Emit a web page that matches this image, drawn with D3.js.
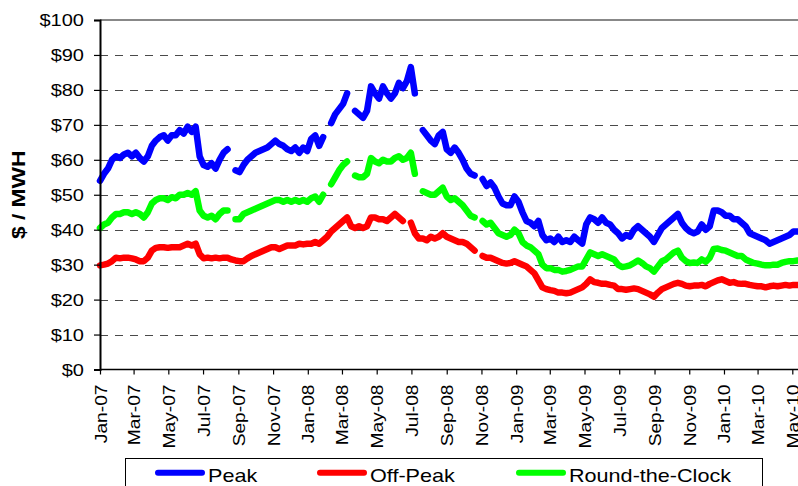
<!DOCTYPE html>
<html>
<head>
<meta charset="utf-8">
<script src="https://cdn.jsdelivr.net/npm/d3@7"></script>
<style>
  html, body { margin: 0; padding: 0; background: #fff; }
  svg { display: block; font-family: "Liberation Sans", Arial, sans-serif; }
</style>
</head>
<body>
<svg id="chart" width="798" height="486"></svg>
<script>
// ---- Data (weekly readings starting 2007-01-01; null = gap in series) ----
const startDate = new Date(2007, 0, 1);
const seriesNames = ["Peak", "Off-Peak", "Round-the-Clock"];
const seriesColors = ["#0000FF", "#FF0000", "#00FF00"];

const peak = [
  54, 56, 57.5, 60, 61, 60.5, 61.5, 62, 61, 62,
  60.5, 59.5, 61, 64, 65.5, 66.5, 67, 65.5, 67, 67,
  68.5, 67.5, 69.5, 68, 69.5, 61, 58.5, 58, 59, 57.5,
  60, 62, 63, null, 57, 56.5, 58.5, 60, 61, 62,
  62.5, 63, 63.5, 64.5, 65.5, 64.5, 64, 63, 62.5, 63.5,
  62, 63.5, 62.5, 66, 67, 64, 66.5, null, 70.5, 73,
  74.5, 76, 79, null, 74, 73, 72, 74, 81, 79,
  77.5, 81, 79, 77.5, 79, 82, 80.5, 82.5, 86.5, 79,
  null, 68.5, 67, 65.5, 64.5, 67, 68, 63, 62, 63.5,
  62, 60, 57.5, 56, 55.5, null, 54.5, 52.5, 53.5, 52,
  49.5, 47.5, 47, 47, 49.5, 48, 45, 42.5, 42, 41,
  42.5, 38.5, 37, 37.5, 36.5, 38, 36.5, 37, 36.5, 38,
  37, 36, 41.5, 43.5, 43, 42, 43.5, 42, 41.5, 40,
  39, 37.5, 38.5, 38, 40, 41, 40, 39, 38, 36.5,
  38.5, 40.5, 41.5, 42.5, 43.5, 44.5, 42, 40.5, 39.5, 39,
  39.5, 41.5, 40, 41, 45.5, 45.5, 45, 44, 44, 43,
  43, 42, 41, 39, 38.5, 38, 37.5, 37, 36, 36.5,
  37, 37.5, 38, 38.5, 39.5, 39.5
];

const offPeak = [
  29.8, 30, 30.3, 31, 32, 31.8, 32, 32, 31.8, 31.5,
  31, 31, 32, 34, 34.8, 35, 35, 34.8, 35, 35,
  35, 35.5, 36, 35.5, 36, 33, 31.8, 32, 31.8, 32,
  31.8, 32, 32, 31.5, 31.2, 31, 31, 31.8, 32.5, 33,
  33.5, 34, 34.5, 35, 35, 34.5, 35, 35.5, 35.5, 35.5,
  36, 35.8, 36, 36, 36.5, 36, 37, 38, 39.5, 40.5,
  41.5, 42.5, 43.5, 41, 40.5, 41, 40.5, 41, 43.5, 43.5,
  43, 43, 42.5, 43.5, 44.5, 43.5, 42.5, null, 42, 39,
  37.5, 37.5, 37, 38, 37.5, 38, 39, 38, 37.5, 37,
  36.5, 36.5, 36, 35, 34, null, 32.5, 32, 32, 31.5,
  31, 30.5, 30.3, 30.5, 31, 30.5, 30, 29.5, 28.5, 27.5,
  25.5, 23.5, 23, 22.7, 22.5, 22, 22, 21.8, 22, 22.5,
  23, 23.5, 24.5, 25.8, 25, 24.8, 24.5, 24.5, 24.2, 24,
  23, 23, 22.8, 23, 23.2, 23, 22.5, 22, 21.5, 20.8,
  22, 23, 23.5, 24, 24.5, 24.8, 24.5, 24, 23.8, 24,
  24, 24.2, 23.8, 24.5, 25, 25.5, 25.8, 25.3, 24.8, 25,
  24.6, 24.5, 24.5, 24.2, 24, 23.8, 23.8, 23.5, 23.8, 24,
  23.8, 24, 24.2, 24, 24.2, 24.2
];

const roundTheClock = [
  40.5, 41.5, 42, 43.5, 44.5, 44.5, 45, 45, 44.5, 45,
  44.5, 43.5, 45, 47.5, 48.5, 49, 49, 48.5, 49.3, 49,
  50, 50, 50.5, 50, 51, 45.5, 44, 43.5, 44, 43,
  44.5, 45.5, 45.5, null, 43, 43, 44.5, 45, 45.5, 46,
  46.5, 47, 47.5, 48, 48.5, 48.5, 48, 48.5, 48, 48.5,
  48, 48.5, 48, 49, 49.5, 48, 50, null, 53, 55,
  57, 58.5, 59.5, null, 55.5, 55, 55, 56, 60.5, 59.5,
  59, 60, 59.5, 59.5, 60.5, 61, 60, 60.5, 62, 56,
  null, 51, 50.5, 50, 50, 51, 52, 49.5, 48.5, 49,
  48, 47, 45.5, 44, 43.5, null, 42.5, 41.5, 42, 40.5,
  39, 38.5, 38, 38.5, 40, 39, 36.5, 35.5, 35, 34,
  33, 30, 29, 29, 28.5, 28.5, 28, 28.2, 28.5, 29,
  29.5, 29.5, 31.5, 33.5, 33, 32.5, 33, 32.5, 32, 31.5,
  30, 29.3, 29.5, 29.8, 30.5, 31.2, 30.5, 29.5, 29, 28,
  29.5, 31, 31.5, 32.5, 33.5, 34, 32, 31, 30.5, 30.6,
  30.5, 31.5, 30.8, 32, 34.5, 34.6, 34.2, 34, 33.5, 33,
  32.5, 32.5, 31.5, 31, 30.5, 30.3, 30, 29.8, 29.8, 30,
  30, 30.5, 30.8, 31, 31, 31.2
];

const yTicks = [0, 10, 20, 30, 40, 50, 60, 70, 80, 90, 100];
const yTitle = "$ / MWH";

// ---- Layout ----
const svg = d3.select("#chart");
const plotLeft = 100, plotTop = 20, plotBottom = 369.5;

const x = d3.scaleTime()
  .domain([new Date(2007, 0, 1), new Date(2010, 4, 1)])
  .range([plotLeft, 792.3]);
const y = d3.scaleLinear().domain([0, 100]).range([plotBottom, plotTop]);

const dates = peak.map((_, i) => d3.timeDay.offset(startDate, 7 * i));
const allSeries = [peak, offPeak, roundTheClock];

// Gridlines
svg.append("g").selectAll("line")
  .data(yTicks.filter(v => v > 0 && v < 100))
  .join("line")
  .attr("x1", plotLeft).attr("x2", 798)
  .attr("y1", d => Math.round(y(d)) + 0.5).attr("y2", d => Math.round(y(d)) + 0.5)
  .attr("stroke", "#4a4a4a").attr("stroke-width", 1.2)
  .attr("stroke-dasharray", "8,7");

// Top border
svg.append("line")
  .attr("x1", plotLeft).attr("x2", 798)
  .attr("y1", y(100)).attr("y2", y(100))
  .attr("stroke", "#888").attr("stroke-width", 2);

// Series lines
const line = d3.line()
  .defined(d => d.v != null)
  .x(d => x(d.date))
  .y(d => y(d.v));

allSeries.forEach((vals, k) => {
  const pts = vals.map((v, i) => ({ date: dates[i], v }));
  svg.append("path")
    .datum(pts)
    .attr("fill", "none")
    .attr("stroke", seriesColors[k])
    .attr("stroke-width", 6.5)
    .attr("stroke-linejoin", "round")
    .attr("stroke-linecap", "round")
    .attr("d", line);
});

// Y axis
const yAxis = svg.append("g").attr("transform", `translate(${plotLeft},0)`)
  .call(d3.axisLeft(y).tickValues(yTicks).tickSize(6).tickFormat(d => "$" + d));
yAxis.select(".domain").attr("stroke", "#000").attr("stroke-width", 2);
yAxis.selectAll(".tick line").attr("stroke", "#000").attr("stroke-width", 1.2);
yAxis.selectAll(".tick text")
  .attr("font-size", 16).attr("fill", "#000")
  .attr("x", 0).attr("dy", null).attr("y", 0)
  .attr("text-anchor", "end")
  .attr("transform", "translate(-16,5.5) scale(1.25,1)");

// X axis
const xTicks = d3.timeMonth.range(new Date(2007, 0, 1), new Date(2010, 5, 1), 2);
const xAxis = svg.append("g").attr("transform", `translate(0,${plotBottom})`)
  .call(d3.axisBottom(x).tickValues(xTicks).tickSize(5).tickFormat(d3.timeFormat("%b-%y")));
xAxis.select(".domain").attr("stroke", "#000").attr("stroke-width", 1.5)
  .attr("d", `M${plotLeft},0H798`);
xAxis.selectAll(".tick line").attr("stroke", "#000").attr("stroke-width", 1.2);
xAxis.selectAll(".tick text")
  .attr("font-size", 16).attr("fill", "#000")
  .attr("x", 0).attr("y", 0).attr("dy", null)
  .attr("text-anchor", "end")
  .attr("transform", "translate(6,15) rotate(-90) scale(1.2,1)");

// Y title
svg.append("text")
  .attr("transform", `translate(25,${(plotTop + plotBottom) / 2}) rotate(-90) scale(1.2,1)`)
  .attr("text-anchor", "middle")
  .attr("font-size", 19).attr("font-weight", "bold").attr("fill", "#000")
  .text(yTitle);

// Legend
const legend = svg.append("g");
legend.append("rect")
  .attr("x", 125.5).attr("y", 458.5).attr("width", 637).attr("height", 40)
  .attr("fill", "#fff").attr("stroke", "#000").attr("stroke-width", 1);
const legendX = [158, 320, 519];
seriesNames.forEach((name, k) => {
  const lx = legendX[k];
  legend.append("line")
    .attr("x1", lx).attr("x2", lx + 44)
    .attr("y1", 472.7).attr("y2", 472.7)
    .attr("stroke", seriesColors[k]).attr("stroke-width", 6)
    .attr("stroke-linecap", "round");
  legend.append("text")
    .attr("transform", `translate(${lx + 50},481.5) scale(1.2,1)`)
    .attr("font-size", 18).attr("fill", "#000")
    .text(name);
});
</script>
</body>
</html>
